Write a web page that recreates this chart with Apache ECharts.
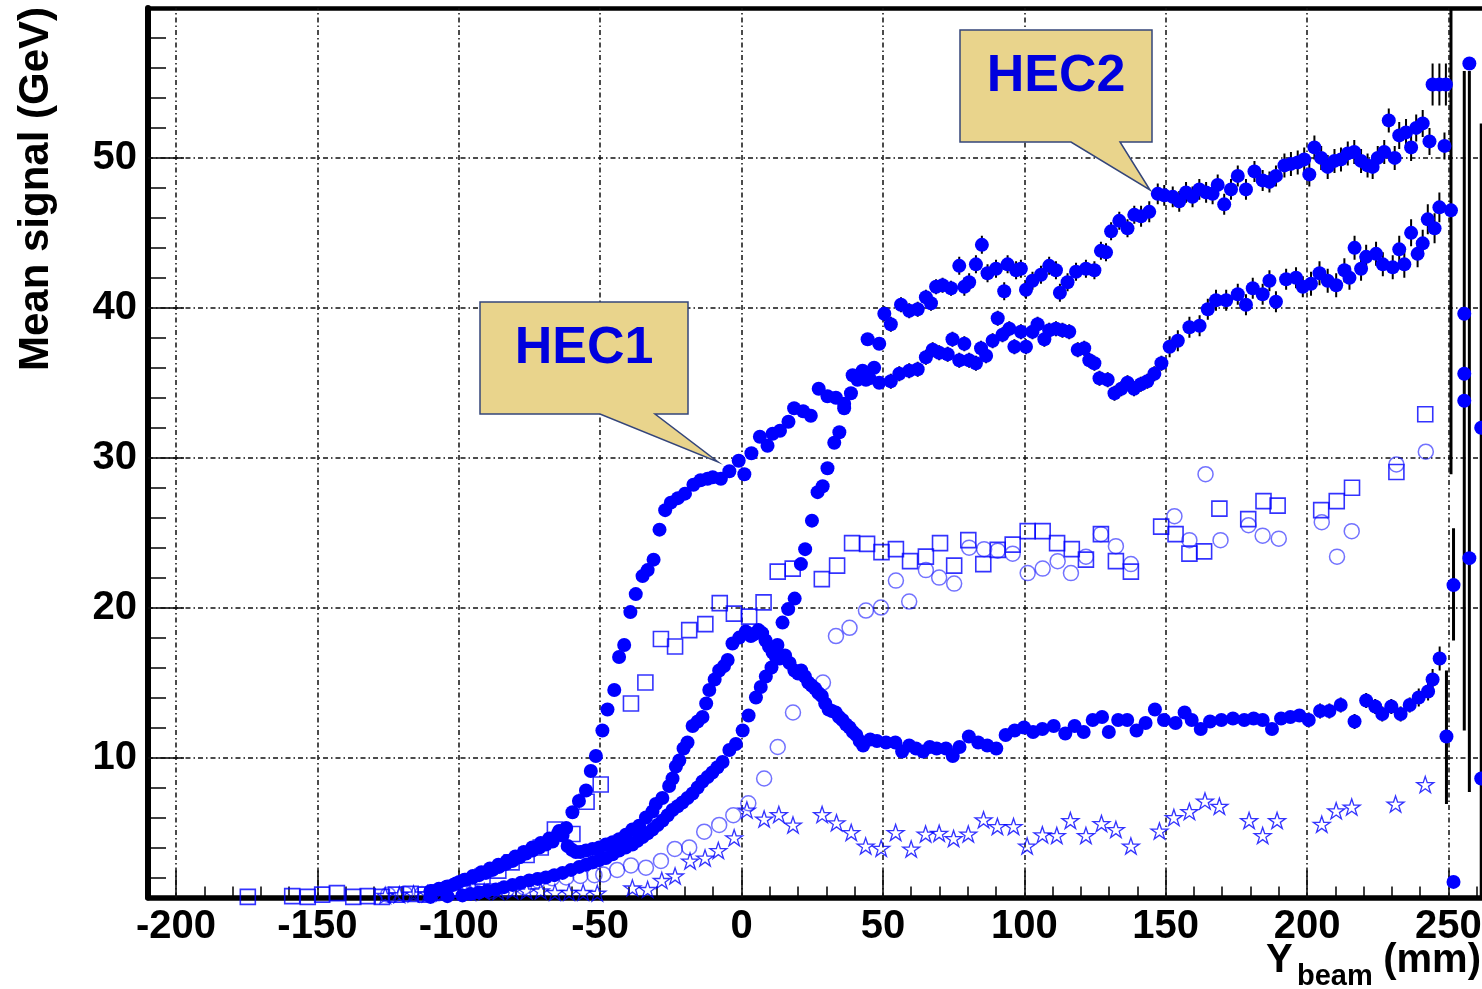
<!DOCTYPE html>
<html><head><meta charset="utf-8">
<script src="https://cdn.jsdelivr.net/npm/echarts@6/dist/echarts.min.js"></script>
<style>html,body{margin:0;padding:0;background:#fff}#c{width:1482px;height:989px}</style>
</head><body><div id="c"></div>
<script>
// ---------- axis ranges & ticks ----------
const X_MIN = -209.9, X_MAX = 264.7;
const Y_MIN = 0.66, Y_MAX = 60;
const xMajorTicks = [-200,-150,-100,-50,0,50,100,150,200,250];
const xMinorTicks = [-190,-180,-170,-160,-140,-130,-120,-110,-90,-80,-70,-60,-40,-30,-20,-10,10,20,30,40,60,70,80,90,110,120,130,140,160,170,180,190,210,220,230,240,260];
const yMajorTicks = [10,20,30,40,50];
const yMinorTicks = [2,4,6,8,12,14,16,18,22,24,26,28,32,34,36,38,42,44,46,48,52,54,56,58];

// ---------- data: [Ybeam (mm), mean signal (GeV), error] ----------
const hecUpper = [[-110,1.1,0],[-107,1.25,0],[-104,1.4,0],[-101,1.6,0],[-98,1.85,0],[-95,2.1,0],[-92,2.35,0],[-89,2.6,0],[-86,2.85,0],[-83,3.1,0],[-80,3.4,0],[-77,3.7,0],[-74,4.0,0],[-71,4.3,0],[-68,4.6,0],[-65,4.9,0],[-62,5.3,0],[-59.8,6.35,0],[-57.5,7.1,0],[-55,7.8,0],[-53.3,9.1,0],[-51.5,10.1,0],[-49.2,11.8,0],[-47.4,13.2,0],[-45,14.5,0],[-43.3,16.7,0],[-41.5,17.5,0],[-39.3,19.7,0],[-37.4,20.9,0],[-35,22.1,0],[-33.2,22.5,0],[-31.1,23.2,0],[-29,25.2,0],[-27,26.5,0],[-25,27.0,0],[-22.5,27.3,0],[-20,27.6,0],[-17,28.2,0],[-14.5,28.5,0],[-12,28.6,0],[-10.2,28.7,0],[-7.3,28.6,0],[-4.3,29.1,0],[-1,29.8,0],[1,28.9,0],[3.5,30.3,0.2],[6.5,31.4,0.2],[9.2,30.8,0.2],[11,31.6,0.2],[13.6,31.8,0.2],[16.6,32.4,0.2],[18.6,33.3,0.2],[21.8,33.1,0.2],[24.5,32.8,0.2],[27.3,34.6,0.3],[30.4,34.1,0.3],[33.4,34.0,0.3],[36.3,33.6,0.3],[39.3,35.5,0.3],[42.8,35.8,0.3],[44.6,37.9,0.4],[48.7,37.6,0.4],[50.5,39.6,0.5],[52.8,38.9,0.5],[56.4,40.2,0.5],[59.3,39.8,0.5],[62.3,39.9,0.5],[65.2,40.7,0.5],[67,40.3,0.5],[68.8,41.4,0.5],[71.1,41.5,0.5],[74.1,41.3,0.5],[77,42.8,0.6],[78.8,41.4,0.6],[80.5,41.7,0.6],[82.9,42.9,0.6],[85,44.2,0.6],[87,42.3,0.6],[90,42.6,0.6],[92.9,41.1,0.6],[94.1,42.9,0.6],[97.1,42.5,0.6],[98.8,42.6,0.6],[100.6,41.2,0.6],[102.9,41.8,0.6],[105.9,42.2,0.6],[108.8,42.8,0.6],[111.2,42.5,0.6],[112.6,41.0,0.6],[115.3,41.7,0.6],[118.3,42.4,0.6],[121.8,42.6,0.6],[124.8,42.5,0.6],[127.1,43.8,0.6],[128.9,43.7,0.6],[130.7,45.1,0.6],[133.6,45.8,0.6],[136.5,45.3,0.6],[138.9,46.2,0.6],[141.3,46.1,0.7],[144.2,46.4,0.7],[147.2,47.6,0.7],[149.5,47.5,0.7],[152.5,47.4,0.7],[154.8,47.1,0.7],[157.2,47.7,0.7],[159.5,47.4,0.7],[161.9,47.9,0.7],[164.3,47.7,0.7],[166.6,47.6,0.7],[168.4,48.2,0.7],[170.7,46.9,0.7],[173.1,47.9,0.7],[175.5,48.8,0.7],[178.4,47.9,0.7],[181.4,49.1,0.7],[184.3,48.5,0.7],[186.7,48.4,0.7],[189,48.8,0.7],[192,49.5,0.8],[194.3,49.6,0.8],[196.7,49.7,0.8],[199,49.9,0.8],[200.8,48.9,0.8],[202.6,50.7,0.8],[205,50.0,0.8],[207.3,49.4,0.8],[209.7,49.8,0.8],[212,49.9,0.8],[214.4,50.3,0.8],[216.7,50.4,0.8],[219.1,49.8,0.8],[221.4,49.5,0.8],[223.2,49.4,0.8],[225,50.0,0.8],[227.3,50.4,0.8],[228.9,52.5,0.8],[231,50.0,0.8],[232.6,51.5,0.9],[235,51.7,0.9],[236.8,50.7,0.9],[238.6,52.0,0.9],[240.9,52.3,0.9],[243.3,51.1,0.9],[244.4,54.9,1.4],[246.8,54.9,1.4],[248.6,50.8,0.9],[249.1,54.9,1.4]];

const hecMiddle = [[-110,0.7,0],[-104,0.75,0],[-98.7,0.8,0],[-95.8,0.9,0],[-92.8,1.0,0],[-89.9,1.1,0],[-86.9,1.2,0],[-84,1.35,0],[-81,1.5,0],[-78,1.65,0],[-75.1,1.8,0],[-72.1,1.9,0],[-69.2,2.0,0],[-66.2,2.15,0],[-63.3,2.3,0],[-60.3,2.5,0],[-57.4,2.7,0],[-55,2.85,0],[-52.7,3.0,0],[-50.3,3.15,0],[-48,3.3,0],[-45.6,3.55,0],[-43.3,3.8,0],[-41,4.0,0],[-38.6,4.2,0],[-36.8,4.45,0],[-35,4.7,0],[-33.2,4.95,0],[-31.5,5.2,0],[-29.7,5.5,0],[-27.9,5.8,0],[-26.1,6.15,0],[-24.4,6.5,0],[-22.6,6.75,0],[-20.9,7.0,0],[-19.1,7.3,0],[-17.3,7.6,0],[-15.5,8.0,0],[-13.8,8.4,0],[-12,8.7,0],[-10.3,9.0,0],[-8.5,9.35,0],[-6.7,9.7,0],[-4.3,10.5,0],[-2,10.9,0],[0.4,11.8,0],[2.5,12.8,0],[5.1,14.0,0],[6.8,14.7,0],[8.6,15.4,0],[10.6,16.0,0],[12.7,17.5,0],[14.5,19.0,0],[16.5,19.9,0],[18.8,20.6,0],[21,22.9,0],[22.5,23.9,0],[24.9,25.8,0],[26.9,27.7,0],[28.7,28.1,0],[30.4,29.3,0],[32.8,31.0,0],[34.6,31.7,0],[36.3,33.3,0.3],[38.7,34.3,0.3],[41,35.2,0.3],[44,35.2,0.3],[45.2,35.3,0.3],[46.9,36.0,0.3],[48.7,35.0,0.3],[52.8,35.1,0.5],[55.8,35.6,0.5],[59.3,35.8,0.5],[62.3,35.9,0.5],[65.2,36.7,0.5],[67.6,37.2,0.5],[69.9,37.0,0.5],[72.9,36.9,0.5],[74.6,37.9,0.5],[77,36.5,0.5],[78.8,37.6,0.5],[80.5,36.5,0.5],[82.9,36.3,0.5],[84.7,37.3,0.5],[86.5,36.8,0.5],[88.8,37.8,0.5],[90.6,39.3,0.5],[92.3,38.2,0.5],[94.7,38.6,0.5],[96.5,37.4,0.5],[98.8,38.4,0.5],[100.6,37.4,0.5],[102.9,38.4,0.5],[104.7,38.9,0.5],[107.1,37.9,0.5],[108.8,38.5,0.5],[111.2,38.6,0.5],[113.5,38.5,0.5],[115.9,38.4,0.5],[118.9,37.2,0.5],[121.2,37.3,0.5],[123,36.5,0.5],[124.8,36.3,0.5],[126.6,35.3,0.5],[129.5,35.2,0.5],[131.9,34.3,0.5],[134.3,34.6,0.5],[136.5,35.0,0.5],[138.8,34.6,0.5],[141.2,34.9,0.5],[143.5,35.1,0.5],[146,35.6,0.5],[148.5,36.3,0.5],[151.4,37.4,0.7],[154.3,37.8,0.7],[158.4,38.7,0.7],[162,38.8,0.7],[164.9,39.9,0.7],[167.8,40.5,0.7],[171.4,40.5,0.7],[175.5,40.9,0.7],[178.4,40.2,0.7],[180.8,41.3,0.7],[184.3,40.9,0.7],[186.7,41.8,0.7],[189,40.4,0.7],[192.6,41.9,0.7],[196.1,42.0,0.7],[198.5,41.4,0.7],[201.4,41.6,0.8],[204.4,42.3,0.8],[207.3,41.8,0.8],[210.3,41.5,0.8],[213.2,42.5,0.8],[215,42.0,0.8],[216.8,44.0,0.8],[219.1,42.6,0.8],[220.9,43.4,0.8],[224.4,43.6,0.8],[226.8,42.9,0.8],[230.3,42.7,0.8],[232.6,43.9,0.9],[234.4,42.9,0.9],[236.8,45.0,0.9],[239.1,43.6,0.9],[240.9,44.3,0.9],[242.7,45.9,1.0],[245.1,45.3,1.0],[246.8,46.7,1.0]];

const hecLower = [[-110,1.05,0],[-107,1.2,0],[-104.6,1.35,0],[-102,1.5,0],[-99.8,1.7,0],[-97.5,1.85,0],[-95.1,2.0,0],[-92.8,2.15,0],[-90.4,2.3,0],[-88,2.5,0],[-85.7,2.7,0],[-83.3,2.9,0],[-80.9,3.1,0],[-78.5,3.35,0],[-76.2,3.6,0],[-73.9,3.8,0],[-71.5,4.0,0],[-69.2,4.2,0],[-66.8,4.4,0],[-64.5,5.1,0],[-63.3,4.8,0],[-61.5,4.1,0],[-60,3.85,0],[-58.6,3.7,0],[-57,3.7,0],[-55,3.8,0],[-52.7,3.9,0],[-50.3,4.0,0],[-48,4.2,0],[-45.6,4.35,0],[-43.3,4.55,0],[-40.9,4.85,0],[-38.6,5.2,0],[-36.2,5.45,0],[-33.8,6.0,0],[-31.5,6.4,0],[-30.3,6.9,0],[-28,7.3,0],[-25.6,8.1,0],[-24.4,8.6,0],[-23.2,9.4,0],[-22,9.8,0],[-20.5,10.6,0],[-19.1,11.0,0],[-17.3,12.1,0],[-15.5,12.4,0],[-13.8,12.7,0],[-12.5,13.6,0],[-11.4,14.5,0],[-9.5,15.2,0],[-7.9,15.8,0],[-6.2,16.1,0],[-4.9,16.5,0],[-3.2,17.6,0],[-0.8,18.0,0],[1.5,18.4,0],[2.2,18.3,0],[3.3,18.1,0],[4.2,18.2,0],[5.1,18.3,0],[6,18.5,0],[7.3,18.3,0],[8.5,17.8,0],[9.7,17.4,0],[11,17.0,0],[12.2,16.7,0],[13.5,16.6,0],[15.4,16.8,0],[17,16.3,0],[18.7,15.8,0],[20,15.6,0],[21.1,15.8,0],[22.4,15.4,0],[23.6,15.0,0],[24.8,14.8,0],[26,14.6,0],[27.2,14.3,0],[28.4,14.1,0],[29.6,13.6,0],[30.8,13.2,0],[32,13.1,0],[33.3,13.0,0],[34.5,12.7,0],[35.7,12.5,0],[37,12.2,0],[38.2,12.0,0],[39.4,11.7,0],[40.6,11.5,0],[41.8,11.1,0],[43,10.8,0],[45.5,11.2,0],[47.9,11.1,0],[51.1,11.0,0],[54.4,11.0,0],[56.8,10.4,0],[59.3,10.8,0],[61.7,10.6,0],[64.2,10.4,0],[66.6,10.7,0],[69,10.6,0],[72.3,10.6,0],[74.7,10.1,0],[77.1,10.7,0],[80.4,11.4,0],[83.7,11.0,0],[86.9,10.8,0],[90.1,10.6,0],[93.4,11.5,0],[96.6,11.8,0],[99.9,12.0,0.3],[103.1,11.7,0.3],[106.4,11.9,0.3],[110.4,12.1,0.3],[114.5,11.6,0.3],[117.8,12.1,0.3],[121,11.7,0.3],[124.2,12.5,0.3],[127.5,12.7,0.3],[129.9,11.7,0.3],[133.2,12.5,0.3],[136.4,12.5,0.3],[139.7,11.8,0.3],[142.9,12.3,0.3],[146.2,13.2,0.3],[149.4,12.5,0.3],[153.5,12.3,0.4],[156.7,13.0,0.4],[159.2,12.5,0.4],[162.4,11.9,0.4],[165.7,12.4,0.4],[169.7,12.5,0.4],[173.8,12.6,0.4],[177.8,12.5,0.4],[181.1,12.6,0.4],[184.3,12.5,0.4],[187.6,11.9,0.4],[190.8,12.6,0.4],[194.1,12.7,0.4],[197.3,12.8,0.4],[200.6,12.5,0.5],[204.6,13.1,0.5],[207.9,13.1,0.5],[211.9,13.5,0.5],[216.8,12.4,0.5],[220.9,13.8,0.5],[224.1,13.4,0.5],[226.6,12.9,0.5],[229.8,13.4,0.5],[233.1,12.9,0.5],[236.3,13.5,0.5],[239.5,14.0,0.6],[242.8,14.4,0.6],[244.4,15.2,0.7],[246.9,16.6,0.8]];

// edge points: [Ybeam, mean, errorbar low end, errorbar high end]
const hecEdge = [[249.3,11.4,6.9,15.8],[250.9,46.5,28.9,60],[251.8,21.5,17.8,25.3],[251.8,1.7,1.7,1.7],[255.6,39.6,39.6,39.6],[255.6,35.6,35.6,35.6],[255.6,33.8,11.8,55.8],[257.4,56.3,56.3,56.3],[257.4,23.3,7.7,55.8],[261.6,32.0,0.66,52.3],[261.6,8.6,8.6,8.6]];

const openSquares = [[-174.6,0.7],[-158.9,0.75],[-153.4,0.7],[-148.3,0.85],[-143.1,0.95],[-137.3,0.7],[-132.2,0.75],[-127.2,0.7],[-122.2,0.85],[-117,0.9],[-111.7,0.85],[-106.9,1.0],[-102,1.25],[-96.8,1.6],[-91.6,2.05],[-86,2.45],[-81.3,3.0],[-76,3.5],[-71,4.0],[-66,5.2],[-59.8,4.9],[-54.8,7.05],[-49.8,8.2],[-39.1,13.6],[-34,15.0],[-28.5,17.9],[-23.5,17.4],[-18.5,18.5],[-12.8,18.9],[-7.7,20.3],[-2.7,19.6],[2.7,19.4],[7.8,20.35],[12.8,22.4],[18.1,22.6],[28.4,21.9],[33.8,22.8],[39.1,24.3],[44.4,24.25],[49.5,23.7],[54.6,23.9],[59.6,23.1],[65.2,23.4],[70.2,24.3],[75.2,22.8],[80.2,24.5],[85.5,22.9],[90.6,23.85],[95.9,24.2],[101.2,25.1],[106.5,25.1],[111.6,24.3],[116.8,23.9],[121.8,23.2],[127.1,24.9],[132.4,23.1],[137.7,22.4],[148.4,25.4],[153.5,24.9],[158.4,23.6],[163.6,23.75],[169,26.6],[179.2,25.9],[184.6,27.1],[189.6,26.8],[205,26.5],[210.5,27.1],[215.9,28.0],[231.6,29.05],[241.8,32.9]];

const openCircles = [[-125,0.85],[-119,0.9],[-113,0.9],[-107,0.95],[-101,1.0],[-95,1.05],[-89,1.1],[-83,1.2],[-77,1.35],[-72,1.8],[-67,1.95],[-62,2.0],[-57,2.1],[-52,2.15],[-48.9,2.2],[-44,2.5],[-39.1,2.8],[-33.8,2.65],[-28.5,3.1],[-23.6,3.9],[-18.5,4.0],[-13.2,5.05],[-7.9,5.5],[-2.9,6.15],[2.4,6.95],[8,8.6],[12.8,10.7],[18.2,13.0],[28.8,15.0],[33.4,18.1],[38.2,18.65],[44,19.8],[49.3,20.0],[54.6,21.8],[59.3,20.4],[65.2,22.5],[69.9,22.0],[75.2,21.6],[80.5,24.0],[85.8,23.9],[90.6,23.8],[95.9,23.6],[101.2,22.3],[106.5,22.6],[111.8,23.1],[116.5,22.3],[121.8,23.4],[127.1,24.9],[132.4,24.1],[137.7,22.9],[153.1,26.1],[158.4,24.5],[164.1,28.9],[169.4,24.5],[179.3,25.5],[184.3,24.8],[190,24.6],[205.2,25.7],[210.6,23.4],[215.8,25.1],[231.6,29.55],[242,30.4]];

const openStars = [[-126,0.8],[-121,0.85],[-116,0.9],[-111,0.9],[-106,0.95],[-101,1.0],[-96,1.0],[-91,1.05],[-86,1.05],[-81,1.1],[-76,1.1],[-71,1.1],[-66,1.0],[-61,1.0],[-56,1.0],[-51,0.95],[-38.6,1.3],[-33.2,1.2],[-28.2,1.8],[-23.5,2.1],[-18.2,3.1],[-12.9,3.3],[-8.2,3.8],[-2.6,4.65],[1.9,6.5],[8,5.9],[13.2,6.2],[18.2,5.5],[28.5,6.2],[33.6,5.65],[38.8,5.0],[43.9,4.1],[49.4,3.95],[54.5,5.0],[60,3.9],[65.1,4.9],[69.9,4.95],[75,4.6],[80.2,4.9],[85.6,5.85],[90.5,5.4],[96.2,5.4],[101,4.1],[106.4,4.85],[111.5,4.8],[116.3,5.8],[121.8,4.8],[127.3,5.6],[132.4,5.2],[137.7,4.1],[147.8,5.1],[152.9,6.0],[158.4,6.4],[163.9,7.1],[169,6.75],[179.5,5.8],[184.3,4.8],[189.4,5.8],[205.2,5.55],[210.3,6.45],[215.8,6.7],[231.3,6.9],[241.8,8.2]];

const calloutLabels = ['HEC1', 'HEC2'];

// ---------- chart ----------
const FONT = '"Liberation Sans", Arial, Helvetica, sans-serif';
const BLUE = '#0000ff';
const STAR = 'path://M50,2 L61.2,36.2 L97.5,36.2 L68.2,57.4 L79.4,91.6 L50,70.4 L20.6,91.6 L31.8,57.4 L2.5,36.2 L38.8,36.2 Z';
const GRID = {left: 148, top: 8, width: 1342, height: 889.5, outerBoundsMode: 'none', containLabel: false};

const chart = echarts.init(document.getElementById('c'), null, {renderer: 'canvas'});

function errBarSeries(data, width, symmetric) {
  return {
    type: 'custom', xAxisIndex: 0, yAxisIndex: 0, z: 2, silent: true, clip: true,
    data: data,
    encode: {x: 0, y: 1},
    renderItem: function (params, api) {
      const x = api.value(0), y = api.value(1);
      let lo, hi;
      if (symmetric) { const e = api.value(2); if (!e) return null; lo = y - e; hi = y + e; }
      else { lo = api.value(2); hi = api.value(3); if (hi - lo <= 0) return null; }
      const p1 = api.coord([x, lo]), p2 = api.coord([x, hi]);
      return {type: 'line', shape: {x1: p1[0], y1: p1[1], x2: p2[0], y2: p2[1]},
              style: {stroke: '#000', lineWidth: width}};
    }
  };
}
function filledSeries(name, data) {
  return {name: name, type: 'scatter', xAxisIndex: 0, yAxisIndex: 0, z: 4, clip: false,
    data: data.map(d => [d[0], d[1]]), symbol: 'circle', symbolSize: 14,
    itemStyle: {color: BLUE, opacity: 1}};
}

const option = {
  animation: false,
  backgroundColor: '#fff',
  grid: [Object.assign({}, GRID), Object.assign({}, GRID)],
  xAxis: [
    {type: 'value', gridIndex: 0, min: X_MIN, max: X_MAX, position: 'bottom',
     axisLine: {show: true, onZero: false, lineStyle: {color: '#000', width: 5.5}},
     axisTick: {show: true, inside: true, length: 27, customValues: xMajorTicks, lineStyle: {color: '#000', width: 1.5}},
     axisLabel: {show: true, customValues: xMajorTicks, margin: 9, color: '#000', fontFamily: FONT, fontWeight: 'bold', fontSize: 40},
     splitLine: {show: false}},
    {type: 'value', gridIndex: 0, min: X_MIN, max: X_MAX, position: 'top',
     axisLine: {show: true, onZero: false, lineStyle: {color: '#000', width: 4.5}},
     axisTick: {show: false}, axisLabel: {show: false}, splitLine: {show: false}},
    {type: 'value', gridIndex: 1, min: X_MIN, max: X_MAX, position: 'bottom',
     axisLine: {show: false, onZero: false},
     axisTick: {show: true, inside: true, length: 11, customValues: xMinorTicks, lineStyle: {color: '#000', width: 1.5}},
     axisLabel: {show: false}, splitLine: {show: false}}
  ],
  yAxis: [
    {type: 'value', gridIndex: 0, min: Y_MIN, max: Y_MAX, position: 'left',
     axisLine: {show: true, onZero: false, lineStyle: {color: '#000', width: 6}},
     axisTick: {show: true, inside: true, length: 36, customValues: yMajorTicks, lineStyle: {color: '#000', width: 1.5}},
     axisLabel: {show: true, customValues: yMajorTicks, margin: 11, color: '#000', fontFamily: FONT, fontWeight: 'bold', fontSize: 40, padding: [0, 0, 10, 0]},
     splitLine: {show: false}},
    {type: 'value', gridIndex: 0, min: Y_MIN, max: Y_MAX, position: 'right',
     axisLine: {show: true, onZero: false, lineStyle: {color: '#000', width: 4.5}},
     axisTick: {show: false}, axisLabel: {show: false}, splitLine: {show: false}},
    {type: 'value', gridIndex: 1, min: Y_MIN, max: Y_MAX, position: 'left',
     axisLine: {show: false, onZero: false},
     axisTick: {show: true, inside: true, length: 18, customValues: yMinorTicks, lineStyle: {color: '#000', width: 1.5}},
     axisLabel: {show: false}, splitLine: {show: false}}
  ],
  series: [
    {name: 'grid', type: 'scatter', xAxisIndex: 0, yAxisIndex: 0, data: [], z: 1, silent: true,
     markLine: {silent: true, symbol: ['none', 'none'], z: 1, animation: false, label: {show: false},
       lineStyle: {color: '#111', width: 1.5, type: [5, 3, 1.5, 3]},
       data: xMajorTicks.map(v => ({xAxis: v})).concat(yMajorTicks.map(v => ({yAxis: v})))}},
    errBarSeries(hecUpper, 2, true),
    errBarSeries(hecMiddle, 2, true),
    errBarSeries(hecLower, 2, true),
    errBarSeries(hecEdge, 3, false),
    {name: 'squares', type: 'scatter', xAxisIndex: 0, yAxisIndex: 0, z: 3, clip: false,
     data: openSquares, symbol: 'rect', symbolSize: 15,
     itemStyle: {color: 'rgba(0,0,0,0)', borderColor: BLUE, borderWidth: 1.6}},
    {name: 'circles', type: 'scatter', xAxisIndex: 0, yAxisIndex: 0, z: 3, clip: false,
     data: openCircles, symbol: 'circle', symbolSize: 15,
     itemStyle: {color: 'rgba(0,0,0,0)', borderColor: 'rgba(20,20,255,0.75)', borderWidth: 1.5}},
    {name: 'stars', type: 'scatter', xAxisIndex: 0, yAxisIndex: 0, z: 3, clip: false,
     data: openStars, symbol: STAR, symbolSize: 17, symbolKeepAspect: true,
     itemStyle: {color: 'rgba(0,0,0,0)', borderColor: BLUE, borderWidth: 1.3}},
    filledSeries('upper', hecUpper),
    filledSeries('middle', hecMiddle),
    filledSeries('lower', hecLower),
    filledSeries('edge', hecEdge)
  ],
  graphic: [
    {type: 'text', x: 36, y: 189, rotation: Math.PI / 2, z: 100,
     style: {text: 'Mean signal (GeV)', font: 'bold 42px ' + FONT, fill: '#000', align: 'center', verticalAlign: 'middle', textAlign: 'center', textVerticalAlign: 'middle'}},
    {type: 'text', x: 1266, y: 961, z: 100,
     style: {text: 'Y', font: 'bold 40px ' + FONT, fill: '#000', align: 'left', verticalAlign: 'middle', textAlign: 'left', textVerticalAlign: 'middle'}},
    {type: 'text', x: 1297, y: 977, z: 100,
     style: {text: 'beam', font: 'bold 29px ' + FONT, fill: '#000', align: 'left', verticalAlign: 'middle', textAlign: 'left', textVerticalAlign: 'middle'}},
    {type: 'text', x: 1481, y: 961, z: 100,
     style: {text: '(mm)', font: 'bold 40px ' + FONT, fill: '#000', align: 'right', verticalAlign: 'middle', textAlign: 'right', textVerticalAlign: 'middle'}},
    {type: 'polygon', z: 100,
     shape: {points: [[480,302],[688,302],[688,414],[655,414],[718,462],[600,414],[480,414]]},
     style: {fill: '#E9D48C', stroke: '#34457A', lineWidth: 1.5}},
    {type: 'text', x: 584, y: 349, z: 101,
     style: {text: calloutLabels[0], font: 'bold 52px ' + FONT, fill: '#0000dd', align: 'center', verticalAlign: 'middle', textAlign: 'center', textVerticalAlign: 'middle'}},
    {type: 'polygon', z: 100,
     shape: {points: [[960,30],[1152,30],[1152,142],[1120,142],[1150,190],[1071,142],[960,142]]},
     style: {fill: '#E9D48C', stroke: '#34457A', lineWidth: 1.5}},
    {type: 'text', x: 1056, y: 77, z: 101,
     style: {text: calloutLabels[1], font: 'bold 52px ' + FONT, fill: '#0000dd', align: 'center', verticalAlign: 'middle', textAlign: 'center', textVerticalAlign: 'middle'}}
  ]
};
chart.setOption(option);
</script>
</body></html>
